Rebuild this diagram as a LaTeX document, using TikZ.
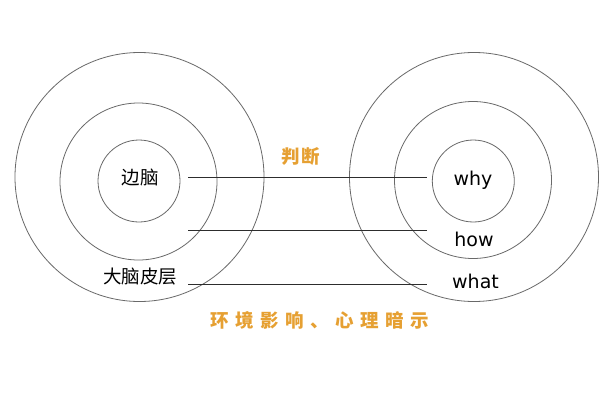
\documentclass[tikz,border=0pt]{standalone}
\usepackage{fontspec}
\setmainfont{DejaVu Sans}
\newfontfamily\cjk{Noto Sans CJK SC}
\definecolor{gold}{RGB}{230,160,50}
\definecolor{ringgray}{RGB}{105,105,105}
\definecolor{linegray}{RGB}{45,45,45}
\newcommand{\gap}{\hspace{6.5pt}}
\begin{document}
\begin{tikzpicture}[x=1pt,y=-1pt,
  ring/.style={circle,draw=ringgray,line width=0.8pt,inner sep=0pt,minimum size=#1},
  link/.style={draw=linegray,line width=0.8pt},
  cn/.style={font=\cjk\fontsize{18.5}{22}\selectfont,text=black,inner sep=0pt},
  en/.style={font=\fontsize{19}{22}\selectfont,text=black,inner sep=0pt},
  gold/.style={font=\cjk\bfseries\fontsize{18.5}{22}\selectfont,text=gold,inner sep=0pt}]
\useasboundingbox[fill=white] (0,0) rectangle (600,407);
% left rings
\node[ring=249pt] (LO) at (139.5,177) {};
\node[ring=157pt] (LM) at (138.5,181.5) {};
\node[ring=82pt] (LI) at (139,181) {};
% right rings
\node[ring=249pt] (RO) at (474,177) {};
\node[ring=157pt] (RM) at (473,180) {};
\node[ring=82pt] (RI) at (473.3,181) {};
% labels
\node[cn] (bn) at (140,178) {边脑};
\node[cn] (dn) at (140,277) {大脑皮层};
\node[en] (why) at (473,180) {why};
\node[en] (how) at (474,239.5) {how};
\node[en] (what) at (475.5,281.5) {what};
\node[gold] (pd) at (300.5,156) {判\hspace{2pt}断};
\node[gold] (hj) at (320,320) {环\gap 境\gap 影\gap 响\gap 、\gap 心\gap 理\gap 暗\gap 示};
% connectors
\coordinate (a1) at (188,177.8);
\coordinate (b1) at (427,177.8);
\coordinate (a2) at (188,230);
\coordinate (b2) at (427,230);
\coordinate (a3) at (188,284.5);
\coordinate (b3) at (427,284.5);
\draw[link] (a1) -- (b1);
\draw[link] (a2) -- (b2);
\draw[link] (a3) -- (b3);
\end{tikzpicture}
\end{document}
